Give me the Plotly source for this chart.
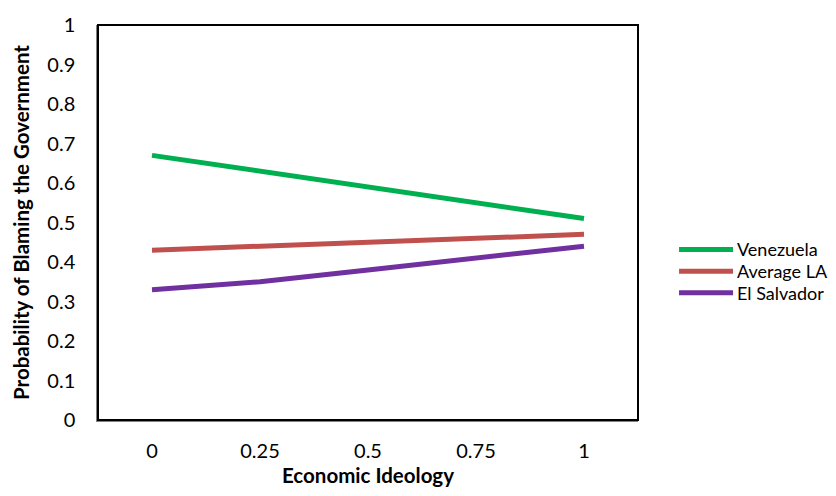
import plotly.graph_objects as go

categories = ["0", "0.25", "0.5", "0.75", "1"]
venezuela = [0.67, 0.63, 0.59, 0.55, 0.51]
average_la = [0.43, 0.44, 0.45, 0.46, 0.47]
el_salvador = [0.33, 0.35, 0.38, 0.41, 0.44]
y_ticks = [0, 0.1, 0.2, 0.3, 0.4, 0.5, 0.6, 0.7, 0.8, 0.9, 1]
y_tick_labels = ["0", "0.1", "0.2", "0.3", "0.4", "0.5", "0.6", "0.7", "0.8", "0.9", "1"]

series = [
    ("Venezuela", venezuela, "#00B050"),
    ("Average LA", average_la, "#C0504D"),
    ("El Salvador", el_salvador, "#7030A0"),
]

fig = go.Figure()
for name, vals, color in series:
    fig.add_trace(go.Scatter(x=categories, y=vals, mode="lines", name=name,
                             line=dict(color=color, width=5), showlegend=False))

# manual legend (longer sample lines, tight row spacing like the original)
leg_y = [0.4317, 0.3768, 0.322]
for (name, _, color), ly in zip(series, leg_y):
    fig.add_shape(type="line", xref="paper", yref="paper", x0=1.076, x1=1.176,
                  y0=ly, y1=ly, line=dict(color=color, width=5))
    fig.add_annotation(xref="paper", yref="paper", x=1.182, y=ly, text=name,
                       showarrow=False, xanchor="left", yanchor="middle",
                       font=dict(size=18), borderpad=0)

font = "Lato, 'Liberation Sans', sans-serif"
fig.update_layout(
    width=836, height=496,
    margin=dict(l=98, r=198, t=16, b=70),
    paper_bgcolor="white", plot_bgcolor="white",
    font=dict(family=font, size=20, color="black"),
    showlegend=False,
    xaxis=dict(type="category", range=[-0.5, 4.5], showgrid=False,
               showline=True, linecolor="#808080", linewidth=1.5,
               ticks="", ticklabelstandoff=12, tickfont=dict(size=20),
               title=dict(text="<b>Economic Ideology</b>", font=dict(size=20.5), standoff=8)),
    yaxis=dict(range=[0, 1], tickvals=y_ticks, ticktext=y_tick_labels, showgrid=False,
               zeroline=False, showline=True, linecolor="#808080", linewidth=1.5,
               ticks="", ticklabelstandoff=17, tickfont=dict(size=20),
               title=dict(text="<b>Probability of Blaming the Government</b>", font=dict(size=20.5), standoff=12)),
)
fig.add_shape(type="rect", xref="paper", yref="paper", x0=0, y0=0, x1=1, y1=1,
              line=dict(color="black", width=2), layer="above")
fig.write_html("out.html")
